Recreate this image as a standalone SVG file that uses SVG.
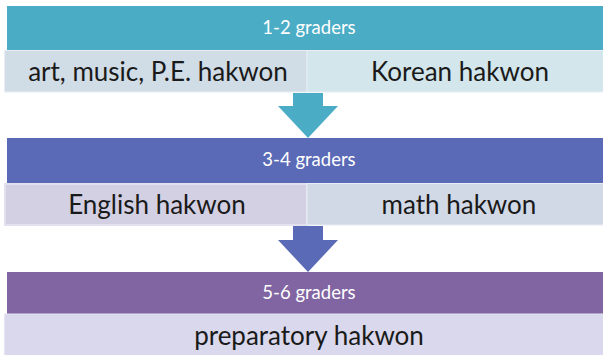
<svg xmlns="http://www.w3.org/2000/svg" width="603" height="355" viewBox="0 0 603 355">
  <style>
    .hdr { font-family: "Lato", "Open Sans", "Liberation Sans", sans-serif; font-size: 18.5px; fill: #ffffff; text-anchor: middle; }
    .sub { font-family: "Lato", "Open Sans", "Liberation Sans", sans-serif; font-size: 26px; fill: #1a1a1a; text-anchor: middle; }
    .box { stroke: #e8eef3; stroke-width: 1; }
  </style>
  <rect width="603" height="355" fill="#ffffff"/>
  <g id="connectors">
    <path d="M293,93 H323 V106 H338 L308,138 L278,106 H293 Z" fill="#4bacc6"/>
    <path d="M293,226 H323 V240 H338 L308,272 L278,240 H293 Z" fill="#5a6ab6"/>
  </g>
  <g id="grade12">
    <rect x="7" y="6" width="604" height="44" fill="#4bacc6"/>
    <text class="hdr" x="309" y="34">1-2 graders</text>
  </g>
  <g id="arts">
    <rect class="box" x="4.5" y="50.5" width="302.5" height="41.5" fill="#d0dce6"/>
    <text class="sub" x="158" y="81">art, music, P.E. hakwon</text>
  </g>
  <g id="korean">
    <rect class="box" x="307" y="50.5" width="304" height="41.5" fill="#d2e6eb"/>
    <text class="sub" x="460" y="81">Korean hakwon</text>
  </g>
  <g id="grade34">
    <rect x="7" y="138" width="604" height="45" fill="#5a6ab6"/>
    <text class="hdr" x="309" y="166">3-4 graders</text>
  </g>
  <g id="english">
    <rect x="5" y="184" width="302" height="41" fill="#d3d0e3" stroke="#e3e0ef" stroke-width="2"/>
    <text class="sub" x="157" y="214">English hakwon</text>
  </g>
  <g id="math">
    <rect class="box" x="307" y="183.5" width="304" height="41.5" fill="#d1d8e6"/>
    <text class="sub" x="459" y="214">math hakwon</text>
  </g>
  <g id="grade56">
    <rect x="7" y="272" width="604" height="42" fill="#8165a2"/>
    <text class="hdr" x="309" y="299">5-6 graders</text>
  </g>
  <g id="preparatory">
    <rect x="4.5" y="314" width="606" height="45" fill="#d9d8ec" stroke="#e6e4f2" stroke-width="1"/>
    <text class="sub" x="309" y="345">preparatory hakwon</text>
  </g>
</svg>
